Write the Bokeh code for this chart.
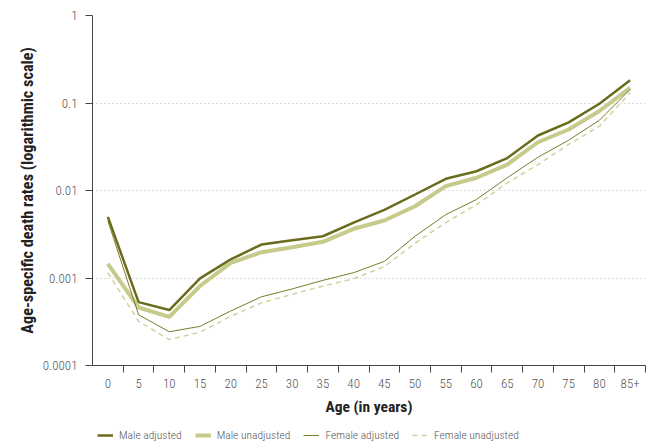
from bokeh.plotting import figure
from bokeh.layouts import column
from bokeh.models import LinearAxis, FixedTicker, Legend, LegendItem, Range1d, Title
from bokeh.embed import file_html
from bokeh.resources import INLINE

ages = ["0", "5", "10", "15", "20", "25", "30", "35", "40", "45", "50", "55",
        "60", "65", "70", "75", "80", "85+"]
male_adjusted = [0.0050, 0.00053, 0.00043, 0.00099, 0.00163, 0.00241, 0.0027, 0.0030,
                 0.0043, 0.0060, 0.0090, 0.0136, 0.0166, 0.0235, 0.0425, 0.060, 0.098, 0.182]
male_unadjusted = [0.00145, 0.00046, 0.00036, 0.00081, 0.00149, 0.00197, 0.00225, 0.00259,
                   0.00365, 0.00454, 0.0066, 0.0112, 0.0140, 0.0198, 0.0356, 0.0498, 0.081, 0.149]
female_adjusted = [0.0045, 0.00038, 0.000243, 0.00028, 0.00042, 0.00061, 0.00075, 0.00094,
                   0.00115, 0.00155, 0.0030, 0.0053, 0.0079, 0.0140, 0.024, 0.0376, 0.0636, 0.143]
female_unadjusted = [0.00115, 0.00032, 0.000198, 0.00024, 0.000366, 0.00052, 0.00065, 0.00081,
                     0.00098, 0.00135, 0.0025, 0.0043, 0.0069, 0.0122, 0.0198, 0.0336, 0.0543, 0.131]
y_ticks = [0.0001, 0.001, 0.01, 0.1, 1]
y_tick_labels = ["0.0001", "0.001", "0.01", "0.1", "1"]
series_names = ["Male adjusted", "Male unadjusted", "Female adjusted", "Female unadjusted"]

FONT = "'Roboto Condensed', 'DejaVu Sans Condensed', sans-serif"
LIGHT_FONT = "'Roboto Condensed Light', 'Roboto Condensed', 'DejaVu Sans Condensed', sans-serif"
TICK_COLOR = "#555555"
AXIS_COLOR = "#444444"
styles = [dict(line_color="#6b6b1e", line_width=2.5),
          dict(line_color="#c6ca8a", line_width=4),
          dict(line_color="#7a7a2c", line_width=1),
          dict(line_color="#cfd39e", line_width=1.5, line_dash="5 4")]

xs = list(range(len(ages)))

p = figure(width=650, height=420, output_backend="svg", toolbar_location=None,
           y_axis_type="log", x_axis_location=None,
           x_range=Range1d(-0.5, len(ages) - 0.5), y_range=Range1d(0.0001, 1),
           min_border_left=92, min_border_top=15, min_border_right=5, min_border_bottom=55)
p.outline_line_color = None

# y axis
ya = p.yaxis[0]
ya.ticker = FixedTicker(ticks=y_ticks, minor_ticks=[])
ya.major_label_overrides = {t: l for t, l in zip(y_ticks, y_tick_labels)}
ya.major_label_text_font = LIGHT_FONT
ya.major_label_text_font_size = "13px"
ya.major_label_text_color = TICK_COLOR
ya.major_tick_out = 7
ya.major_tick_in = 0
ya.minor_tick_line_color = None
ya.axis_line_color = AXIS_COLOR
ya.major_tick_line_color = AXIS_COLOR
ya.major_label_standoff = 8

# y axis title
ytitle = Title(text="Age-specific death rates (logarithmic scale)", align="center",
               offset=16, standoff=6, text_font=FONT, text_font_style="bold",
               text_font_size="16.3px", text_color="#222222")
p.add_layout(ytitle, "left")

p.xgrid.visible = False
p.ygrid.ticker = FixedTicker(ticks=[0.001, 0.01, 0.1, 1])
p.ygrid.grid_line_color = "#bbbbbb"
p.ygrid.grid_line_dash = "1 3"
p.ygrid.grid_line_width = 1

# x axis: labels at category centres, tick marks at category boundaries
xa = LinearAxis(ticker=FixedTicker(ticks=xs, minor_ticks=[i + 0.5 for i in xs]))
xa.major_label_overrides = {i: a for i, a in zip(xs, ages)}
xa.axis_line_color = AXIS_COLOR
xa.major_tick_line_color = None
xa.major_tick_out = 7
xa.major_tick_in = 0
xa.minor_tick_line_color = AXIS_COLOR
xa.minor_tick_out = 7
xa.minor_tick_in = 0
xa.major_label_standoff = 6
xa.major_label_text_font = LIGHT_FONT
xa.major_label_text_font_size = "13px"
xa.major_label_text_color = TICK_COLOR
xa.axis_label = "Age (in years)"
xa.axis_label_text_font = FONT
xa.axis_label_text_font_style = "bold"
xa.axis_label_text_font_size = "15.5px"
xa.axis_label_text_color = "#222222"
xa.axis_label_standoff = 7
p.add_layout(xa, "below")

for ys, st in zip([male_adjusted, male_unadjusted, female_adjusted, female_unadjusted], styles):
    p.line(xs, ys, **st)

# legend strip (its frame is aligned with the chart frame)
lf = figure(width=650, height=28, output_backend="svg", toolbar_location=None,
            x_range=Range1d(0, 1), y_range=Range1d(0, 1),
            min_border_left=0, min_border_right=0, min_border_top=0, min_border_bottom=0)
lf.axis.visible = False
lf.grid.visible = False
lf.outline_line_color = None
items = []
for name, st in zip(series_names, styles):
    r = lf.line([2, 3], [2, 3], **st)
    items.append(LegendItem(label=name, renderers=[r]))
legend = Legend(items=items, orientation="horizontal", location=(5, 6),
                label_text_font=LIGHT_FONT, label_text_font_size="11.5px",
                label_text_color=TICK_COLOR, glyph_width=16, glyph_height=12,
                label_standoff=6, spacing=13, padding=0, margin=0,
                label_height=12,
                border_line_color=None, background_fill_alpha=0)
lf.add_layout(legend, "center")

layout = column(p, lf, spacing=0)
open("out.html", "w").write(file_html(layout, INLINE))
